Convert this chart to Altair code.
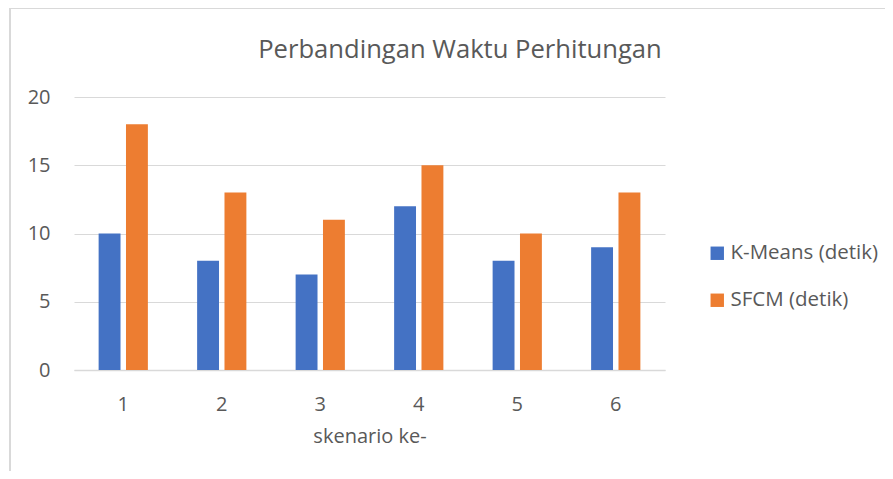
import altair as alt
import pandas as pd

skenario = ["1", "2", "3", "4", "5", "6"]
kmeans = [10, 8, 7, 12, 8, 9]
sfcm = [18, 13, 11, 15, 10, 13]
series = ["K-Means (detik)", "SFCM (detik)"]
colors = ["#4472C4", "#ED7D31"]
judul = "Perbandingan Waktu Perhitungan"

rows = []
for i, s in enumerate(skenario):
    rows.append({"skenario": s, "seri": series[0], "nilai": kmeans[i]})
    rows.append({"skenario": s, "seri": series[1], "nilai": sfcm[i]})
df = pd.DataFrame(rows)

FONT = "Open Sans"
TXT = "#595959"

bars = alt.Chart(df).mark_bar().encode(
    x=alt.X("skenario:N", sort=skenario,
            scale=alt.Scale(paddingInner=0.5, paddingOuter=0.25),
            axis=alt.Axis(title="skenario ke-", labelAngle=0, labelPadding=24,
                          titlePadding=12, ticks=False, domainColor="#d9d9d9",
                          domainWidth=1.5)),
    xOffset=alt.XOffset("seri:N", sort=series,
                        scale=alt.Scale(paddingInner=0.2, paddingOuter=0)),
    y=alt.Y("nilai:Q", scale=alt.Scale(domain=[0, 20]),
            axis=alt.Axis(title=None, values=[0, 5, 10, 15, 20], ticks=False,
                          domain=False, labelPadding=24, gridColor="#d9d9d9")),
    color=alt.Color("seri:N", sort=series,
                    scale=alt.Scale(domain=series, range=colors),
                    legend=alt.Legend(title=None, orient="none", legendX=633,
                                      legendY=146, symbolType="square",
                                      symbolSize=180, rowPadding=26,
                                      labelFontSize=20.5, labelColor=TXT,
                                      labelFont=FONT, symbolStrokeWidth=0,
                                      labelOffset=3)),
)

border_left = alt.Chart(df).mark_rule(color="#d9d9d9", strokeWidth=1.5).encode(
    x=alt.value(-64), y=alt.value(-89), y2=alt.value(374))
border_top = alt.Chart(df).mark_rule(color="#d9d9d9", strokeWidth=1.5).encode(
    x=alt.value(-64), x2=alt.value(811), y=alt.value(-89))

title = alt.Chart(pd.DataFrame({"t": [judul]})).mark_text(
    font=FONT, fontSize=25.6, color=TXT, align="center", baseline="middle"
).encode(text="t:N", x=alt.value(386), y=alt.value(-47))

chart = alt.layer(border_left, border_top, bars, title).properties(
    width=591, height=273,
    autosize=alt.AutoSizeParams(type="none"),
    padding={"left": 66, "top": 89, "right": 220, "bottom": 101},
).configure_view(stroke=None).configure_axis(
    labelFont=FONT, titleFont=FONT, labelFontSize=20, titleFontSize=20,
    labelColor=TXT, titleColor=TXT, titleFontWeight="normal"
)

chart.save("out.html", embed_options={"renderer": "svg", "actions": False})
